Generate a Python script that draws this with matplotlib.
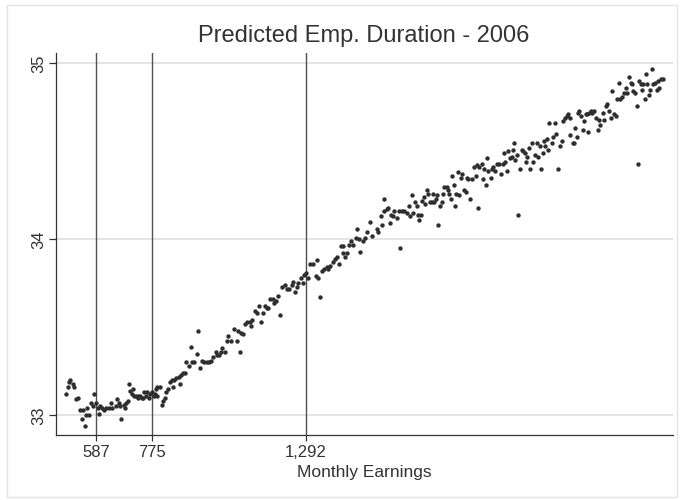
import numpy as np
import matplotlib.pyplot as plt
from matplotlib.patches import Rectangle

plt.rcParams['font.family'] = ['Liberation Sans', 'DejaVu Sans']

# Binned scatter: monthly earnings (x) vs predicted employment duration (y)
earnings = [
    487, 494, 496, 501, 510, 513, 521, 527, 534, 539, 543, 549, 554, 557, 563,
    571, 579, 582, 588, 594, 599, 601, 608, 616, 622, 631, 638, 642, 653, 658,
    664, 669, 673, 683, 684,
    689, 695, 698, 702, 709, 713, 716, 722, 728, 730, 736, 742, 747, 749, 756,
    760, 764, 770, 775, 781, 786, 790, 792, 794, 801, 809, 814, 820, 823, 831,
    837, 842, 848, 850, 857, 865, 870, 873, 879, 887,
    890, 901, 907, 910, 918, 926, 932, 938, 945, 952, 960, 968, 975, 982, 990,
    994, 1001, 1008, 1012, 1022, 1027, 1033, 1042, 1053, 1061, 1066, 1072, 1075,
    1083, 1089, 1094, 1106, 1109, 1113, 1122, 1128, 1136, 1143, 1150, 1156,
    1162, 1167, 1173, 1181, 1187, 1192, 1201, 1206,
    1212, 1223, 1231, 1238, 1246, 1251, 1257, 1263, 1268, 1276, 1283, 1287,
    1294, 1302, 1307, 1318, 1327, 1330, 1335, 1341, 1347, 1354, 1363, 1369,
    1374, 1384, 1391, 1397, 1406, 1410, 1417, 1419, 1425, 1431, 1438, 1444,
    1453, 1462, 1464, 1473, 1475, 1484, 1492, 1500, 1509, 1515,
    1531, 1535, 1546, 1550, 1556, 1557, 1565, 1570, 1576, 1580, 1587, 1591,
    1599, 1606, 1610, 1615, 1624, 1632, 1640, 1644, 1649, 1654, 1660, 1666,
    1669, 1675, 1680, 1685, 1691, 1694, 1699, 1703, 1711, 1716, 1720, 1725,
    1730, 1734, 1738, 1744, 1750, 1755, 1759, 1767, 1770, 1774, 1781, 1786,
    1790, 1795, 1798, 1804, 1808, 1815, 1819, 1824, 1831, 1835, 1839,
    1845, 1851, 1858, 1865, 1868, 1873, 1876, 1884, 1888, 1892, 1899, 1903,
    1907, 1915, 1918, 1923, 1929, 1937, 1943, 1948, 1955, 1959, 1963, 1968,
    1974, 1979, 1985, 1989, 1993, 1996, 2002, 2007, 2013, 2019, 2024, 2030,
    2033, 2038, 2044, 2047, 2052, 2058, 2063, 2069, 2075, 2080, 2083, 2089,
    2094, 2097, 2103, 2108, 2112, 2120, 2125, 2131, 2134, 2142, 2148, 2153,
    2159, 2164, 2170, 2175,
    2181, 2183, 2190, 2195, 2198, 2206, 2207, 2212, 2217, 2224, 2228, 2235,
    2239, 2243, 2246, 2251, 2257, 2262, 2269, 2276, 2280, 2284, 2291, 2295,
    2302, 2306, 2313, 2318, 2322, 2329, 2336, 2340, 2347, 2349, 2355, 2363,
    2369, 2374, 2380, 2385, 2390, 2394, 2400, 2407, 2411, 2414, 2419, 2422,
    2427, 2433, 2437, 2441, 2448, 2452, 2456, 2461, 2467, 2473, 2478, 2481,
    2486, 2493,
]
duration = [
    33.12, 33.16, 33.19, 33.20, 33.18, 33.16, 33.09, 33.10, 33.03, 32.98, 33.03,
    32.94, 33.00, 33.04, 33.00, 33.07, 33.05, 33.12, 33.07, 33.04, 33.01, 33.05,
    33.04, 33.03, 33.04, 33.04, 33.07, 33.04, 33.05, 33.09, 33.07, 33.05, 32.98,
    33.06, 33.04,
    33.07, 33.08, 33.18, 33.14, 33.12, 33.15, 33.11, 33.11, 33.11, 33.10, 33.11,
    33.10, 33.10, 33.13, 33.11, 33.13, 33.10, 33.12, 33.13, 33.11, 33.12, 33.15,
    33.11, 33.16, 33.16, 33.06, 33.08, 33.10, 33.13, 33.15, 33.19, 33.20, 33.16,
    33.20, 33.21, 33.22, 33.18, 33.23, 33.24, 33.24,
    33.30, 33.28, 33.39, 33.30, 33.30, 33.35, 33.48, 33.27, 33.31, 33.30, 33.30,
    33.30, 33.31, 33.33, 33.36, 33.34, 33.34, 33.36, 33.38, 33.36, 33.42, 33.45,
    33.42, 33.49, 33.42, 33.48, 33.36, 33.47, 33.46, 33.52, 33.53, 33.53, 33.51,
    33.54, 33.59, 33.58, 33.62, 33.53, 33.58, 33.62, 33.61, 33.61, 33.66, 33.66,
    33.64, 33.65, 33.68, 33.57,
    33.73, 33.74, 33.72, 33.72, 33.74, 33.76, 33.70, 33.73, 33.75, 33.78, 33.75,
    33.80, 33.81, 33.78, 33.86, 33.86, 33.79, 33.88, 33.78, 33.67, 33.82, 33.83,
    33.84, 33.83, 33.85, 33.87, 33.89, 33.90, 33.86, 33.96, 33.96, 33.92, 33.90,
    33.92, 33.97, 33.99, 33.97, 34.01, 34.06, 34.00, 33.93, 33.99, 34.01, 34.04,
    34.10, 34.02,
    34.06, 34.04, 34.13, 34.08, 34.23, 34.16, 34.17, 34.18, 34.09, 34.14, 34.13,
    34.16, 34.12, 34.16, 33.95, 34.16, 34.16, 34.15, 34.19, 34.13, 34.25, 34.15,
    34.21, 34.19, 34.14, 34.11, 34.14, 34.22, 34.24, 34.20, 34.28, 34.26, 34.21,
    34.21, 34.26, 34.21, 34.23, 34.25, 34.08, 34.19, 34.21, 34.26, 34.30, 34.30,
    34.28, 34.26, 34.23, 34.36, 34.31, 34.19, 34.26, 34.38, 34.25, 34.35, 34.37,
    34.28, 34.27, 34.35, 34.34,
    34.23, 34.34, 34.41, 34.36, 34.42, 34.18, 34.41, 34.43, 34.34, 34.40, 34.31,
    34.46, 34.39, 34.35, 34.40, 34.41, 34.39, 34.43, 34.43, 34.37, 34.43, 34.49,
    34.44, 34.39, 34.50, 34.46, 34.47, 34.51, 34.55, 34.45, 34.48, 34.14, 34.40,
    34.51, 34.50, 34.49, 34.44, 34.47, 34.52, 34.40, 34.55, 34.44, 34.48, 34.55,
    34.47, 34.53, 34.40, 34.49, 34.56, 34.53, 34.57, 34.51, 34.66, 34.55, 34.58,
    34.66, 34.60, 34.40, 34.53, 34.56, 34.67, 34.69, 34.70, 34.71,
    34.59, 34.69, 34.55, 34.55, 34.63, 34.58, 34.72, 34.73, 34.70, 34.62, 34.67,
    34.71, 34.71, 34.61, 34.72, 34.73, 34.72, 34.73, 34.69, 34.62, 34.68, 34.65,
    34.72, 34.68, 34.76, 34.77, 34.73, 34.69, 34.84, 34.71, 34.70, 34.80, 34.89,
    34.80, 34.81, 34.83, 34.86, 34.83, 34.92, 34.89, 34.88, 34.84, 34.83, 34.76,
    34.43, 34.90, 34.88, 34.85, 34.88, 34.80, 34.94, 34.88, 34.82, 34.85, 34.97,
    34.88, 34.89, 34.85, 34.90, 34.86, 34.91, 34.91,
]

xline_values = [587, 775, 1292]
xtick_labels = ['587', '775', '1,292']
ytick_values = [33, 34, 35]

fig = plt.figure(figsize=(6.83, 5.0), dpi=100)
ax = fig.add_axes([0.0816, 0.13, 0.9034, 0.7634])

# faint outer frame around the graph region
fig.patches.append(Rectangle((0.0102, 0.006), 0.981, 0.984, transform=fig.transFigure,
                             fill=False, edgecolor='#e4e4e4', linewidth=1.0))

for yv in ytick_values:
    ax.axhline(yv, color='#e2e2e2', linewidth=1.3, zorder=0)
for xv in xline_values:
    ax.axvline(xv, color='#505050', linewidth=1.0, zorder=1)

ax.scatter(earnings, duration, s=10, color='#2e2e2e', linewidths=0, zorder=2)

ax.set_xlim(452, 2527)
ax.set_ylim(32.888, 35.057)

ax.set_xticks(xline_values)
ax.set_xticklabels(xtick_labels)
ax.set_yticks(ytick_values)
ax.set_yticklabels([str(v) for v in ytick_values], rotation=90, va='center')

ax.tick_params(axis='x', length=4, width=0.9, color='#333333', labelsize=12,
               labelcolor='#333333', pad=3)
ax.tick_params(axis='y', length=5, width=0.9, color='#333333', labelsize=12,
               labelcolor='#333333', pad=2)

for side in ['top', 'right']:
    ax.spines[side].set_visible(False)
for side in ['left', 'bottom']:
    ax.spines[side].set_color('#333333')
    ax.spines[side].set_linewidth(0.9)

ax.set_xlabel('Monthly Earnings', fontsize=12.5, color='#333333', labelpad=4)
fig.text(0.533, 0.928, 'Predicted Emp. Duration - 2006', ha='center', va='center',
         fontsize=17, color='#333333')

fig.savefig('out.png', dpi=100)
